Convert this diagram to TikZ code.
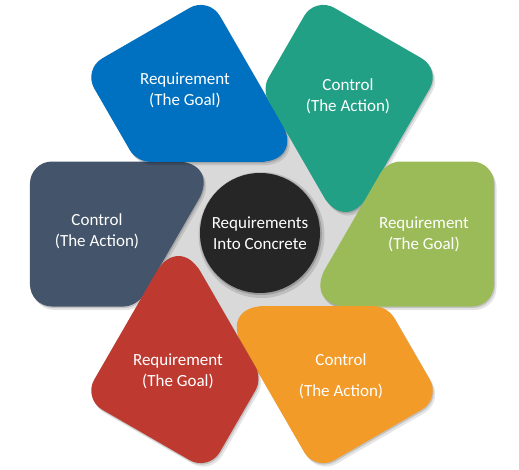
\documentclass[tikz,border=0pt]{standalone}
\usepackage{fontspec}
\setmainfont{Carlito}
\definecolor{petalslate}{HTML}{44546A}
\definecolor{petalblue}{HTML}{0070C0}
\definecolor{petalteal}{HTML}{21A085}
\definecolor{petalgreen}{HTML}{9BBB59}
\definecolor{petalorange}{HTML}{F29B28}
\definecolor{petalred}{HTML}{BE3A30}
\definecolor{hubdark}{HTML}{262626}
\definecolor{backgray}{HTML}{D9D9D9}
\usetikzlibrary{positioning}

\tikzset{
  petal outline/.style={insert path={(-232,0) [rounded corners=22pt] -- (-232,72.5)
      -- (-136.75,72.5) [rounded corners=44pt] -- (-41.5,72.5)
      -- (-83.35,0) [rounded corners=13pt] -- (-125.2,-72.5)
      -- (-178.6,-72.5) [rounded corners=22pt] -- (-232,-72.5) -- cycle}},
  petal text/.style={text=white, align=center, font=\fontsize{17}{21}\selectfont},
}

% one rounded petal, turned by #1, filled with #2
\newcommand{\petal}[2]{%
  \fill[black,opacity=0.10,shift={(2.5,-3.5)},rotate=#1,petal outline];
  \fill[black,opacity=0.15,shift={(1,-1.5)},rotate=#1,petal outline];
  \fill[#2,rotate=#1,petal outline];}

\begin{document}
\begin{tikzpicture}[x=1pt,y=1pt]
    \useasboundingbox (-262,-235) rectangle (257,234);

    % Gray ground behind the petals
    \fill[backgray] (0,0) circle (118);

    % Petals
    \petal{0}{petalslate}
    \petal{-60}{petalblue}
    \petal{-120}{petalteal}
    \petal{-180}{petalgreen}
    \petal{120}{petalorange}
    \petal{60}{petalred}

    \node[petal text] (actionslate)  at (-165,3)    {Control\\(The Action)};
    \node[petal text] (goalblue)     at (-77,144)   {Requirement\\(The Goal)};
    \node[petal text] (actionteal)   at (86,138)    {Control\\(The Action)};
    \node[petal text] (goalgreen)    at (162,0)     {Requirement\\(The Goal)};
    \node[petal text] (actionorange) at (79,-142)   {Control\\[10pt](The Action)};
    \node[petal text] (goalred)      at (-84,-137)  {Requirement\\(The Goal)};

    % Hub
    \fill[black,opacity=0.12] (-0.5,-1) circle (63);
    \fill[black,opacity=0.18] (-1.2,0) circle (61);
    \node[circle,fill=hubdark,minimum size=120pt,inner sep=0pt,petal text]
      (hub) at (-2,1) {Requirements\\Into Concrete};
\end{tikzpicture}
\end{document}
